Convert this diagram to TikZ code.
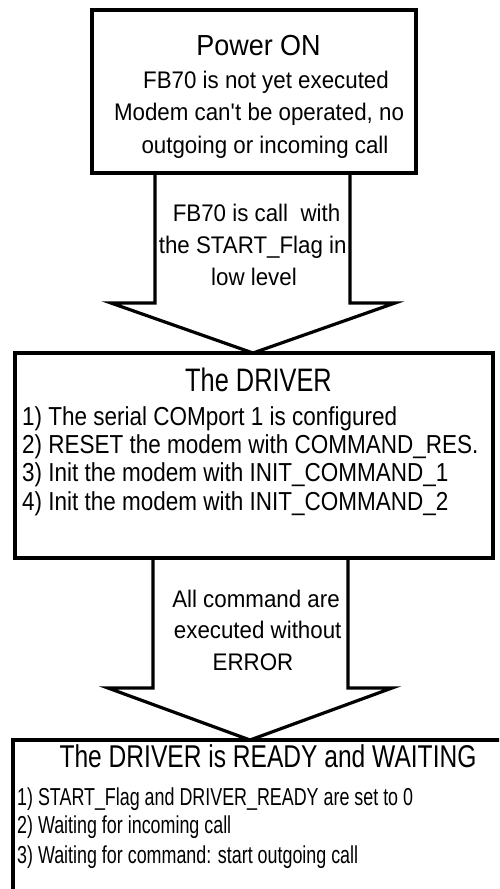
\documentclass[tikz,border=0pt]{standalone}
\usepackage{fontspec}
\setmainfont{Liberation Sans}
\newfontfamily\fA[FakeStretch=0.93]{Liberation Sans}
\newfontfamily\fB[FakeStretch=0.78]{Liberation Sans}
\newfontfamily\fC[FakeStretch=0.865]{Liberation Sans}
\newfontfamily\fD[FakeStretch=0.73]{Liberation Sans}
\tikzset{
  frame/.style={draw=black, line width=3.2pt, line join=miter},
  boxnode/.style={frame, rectangle, inner sep=0pt, outer sep=0pt},
  tone/.style={anchor=base, inner sep=0pt, font=\fA\fontsize{29}{33}\selectfont},
  bone/.style={anchor=base, inner sep=0pt, font=\fA\fontsize{24}{30}\selectfont},
  ttwo/.style={anchor=base, inner sep=0pt, font=\fB\fontsize{32.5}{36}\selectfont},
  btwo/.style={anchor=base west, inner sep=0pt, font=\fC\fontsize{26}{30}\selectfont},
  tthree/.style={anchor=base, inner sep=0pt, font=\fB\fontsize{31.5}{36}\selectfont},
  bthree/.style={anchor=base west, inner sep=0pt, font=\fD\fontsize{24.5}{28}\selectfont},
}
\begin{document}
\begin{tikzpicture}[x=1pt,y=-1pt]
\useasboundingbox (0,0) rectangle (499,889);
\fill[white] (0,0) rectangle (499,889);
\clip (0,0) rectangle (499,889);

% boxes
\node[boxnode, minimum width=324pt, minimum height=163pt] (power) at (254,91.5) {};
\node[boxnode, minimum width=478pt, minimum height=205pt] (driver) at (254,455.5) {};
\node[boxnode, minimum width=507pt, minimum height=170pt] (ready) at (266.5,825) {};
\coordinate (tipone) at (253,353);
\coordinate (tiptwo) at (250,740);

% fat arrows
\draw[frame] ([xshift=-99pt]power.south) -- ++(0,130) -- ++(-44,0) -- (tipone)
  -- ++(142,-50) -- ++(-45,0) -- ([xshift=96pt]power.south);
\draw[frame] ([xshift=-101pt]driver.south) -- ++(0,130) -- ++(-45,0) -- (tiptwo)
  -- ++(142,-52) -- ++(-44,0) -- ([xshift=94pt]driver.south);

% texts: top box
\node[tone] (p0) at (258.5,55) {Power ON};
\node[bone] (p1) at (266,88) {FB70 is not yet executed};
\node[bone] (p2) at (259,120.5) {Modem can\textquotesingle t be operated, no};
\node[bone] (p3) at (265,153) {outgoing or incoming call};

% arrow 1 text
\node[bone] (a1) at (256.5,221.5) {FB70 is call\ \ with};
\node[bone] (a2) at (252.7,253) {the START\_Flag in};
\node[bone] (a3) at (254,285) {low level};

% driver box
\node[ttwo] (d0) at (258.5,391) {The DRIVER};
\node[btwo] (d1) at (22,425) {1) The serial COMport 1 is configured};
\node[btwo] (d2) at (22,453.5) {2) RESET the modem with COMMAND\_RES.};
\node[btwo] (d3) at (22,481.5) {3) Init the modem with INIT\_COMMAND\_1};
\node[btwo] (d4) at (22,510.5) {4) Init the modem with INIT\_COMMAND\_2};

% arrow 2 text
\node[bone] (e1) at (256,607) {All command are};
\node[bone] (e2) at (257.7,638) {executed without};
\node[bone] (e3) at (253,670) {ERROR};

% ready box
\node[tthree] (r0) at (268,767) {The DRIVER is READY and WAITING};
\node[bthree] (r1) at (17,805) {1) START\_Flag and DRIVER\_READY are set to 0};
\node[bthree] (r2) at (17,833.5) {2) Waiting for incoming call};
\node[bthree] (r3) at (17,863) {3) Waiting for command: start outgoing call};
\end{tikzpicture}
\end{document}
